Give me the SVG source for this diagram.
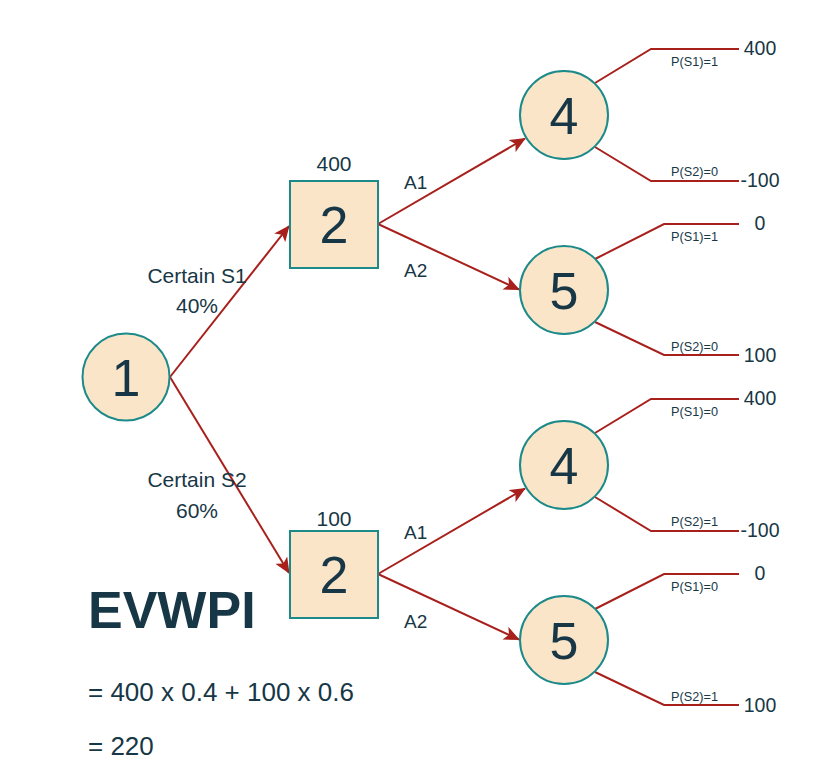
<svg xmlns="http://www.w3.org/2000/svg" width="827" height="782" viewBox="0 0 827 782">
<style>
.nd{fill:#FAE5C8;stroke:#1B8A89;stroke-width:2}
.num{font-family:"Liberation Sans",Arial,sans-serif;font-size:52px;fill:#173746;text-anchor:middle}
.lbl{font-family:"Liberation Sans",Arial,sans-serif;font-size:21px;fill:#173746;text-anchor:middle}
.act{font-family:"Liberation Sans",Arial,sans-serif;font-size:19px;fill:#173746}
.pay{font-family:"Liberation Sans",Arial,sans-serif;font-size:19.5px;fill:#173746;text-anchor:middle}
.prob{font-family:"Liberation Sans",Arial,sans-serif;font-size:12.7px;fill:#173746;text-anchor:middle}
.ev{font-family:"Liberation Sans",Arial,sans-serif;fill:#173746}
.arr{fill:none;stroke:#A8201B;stroke-width:2}
.br{fill:none;stroke:#A8201B;stroke-width:2}
</style>
<defs>
<marker id="ah" markerUnits="userSpaceOnUse" markerWidth="16" markerHeight="14" viewBox="0 0 16 14" refX="15" refY="7" orient="auto">
<path d="M0,0 L16,7 L0,14 L4,7 z" fill="#A8201B"/>
</marker>
</defs>
<g id="connectors">
<path class="arr" d="M170,377 L289,226" marker-end="url(#ah)"/>
<path class="arr" d="M170,377 L289,573" marker-end="url(#ah)"/>
<path class="arr" d="M378,224 L525,138.5" marker-end="url(#ah)"/>
<path class="arr" d="M378,224 L519,289.5" marker-end="url(#ah)"/>
<path class="arr" d="M378,574 L525,488.5" marker-end="url(#ah)"/>
<path class="arr" d="M378,574 L519,639.5" marker-end="url(#ah)"/>
<path class="br" d="M595,83 L651,49 L739,49"/>
<path class="br" d="M595,147 L651,181 L739,181"/>
<path class="br" d="M595,259 L664,224 L739,224"/>
<path class="br" d="M595,322 L664,355 L739,355"/>
<path class="br" d="M595,433 L651,399 L739,399"/>
<path class="br" d="M595,497 L651,531 L739,531"/>
<path class="br" d="M595,609 L664,574 L739,574"/>
<path class="br" d="M595,672 L664,705 L739,705"/>
</g>
<g id="edge-labels">
<text class="lbl" x="197" y="283">Certain S1</text>
<text class="lbl" x="197" y="313">40%</text>
<text class="lbl" x="197" y="487">Certain S2</text>
<text class="lbl" x="197" y="518">60%</text>
<text class="act" x="404" y="189">A1</text>
<text class="act" x="404" y="277">A2</text>
<text class="act" x="404" y="539">A1</text>
<text class="act" x="404" y="628">A2</text>
<text class="prob" x="694.5" y="65.5">P(S1)=1</text>
<text class="prob" x="694.5" y="175.5">P(S2)=0</text>
<text class="prob" x="694.5" y="240.5">P(S1)=1</text>
<text class="prob" x="694.5" y="350.5">P(S2)=0</text>
<text class="prob" x="694.5" y="415.5">P(S1)=0</text>
<text class="prob" x="694.5" y="525.5">P(S2)=1</text>
<text class="prob" x="694.5" y="590.5">P(S1)=0</text>
<text class="prob" x="694.5" y="700.5">P(S2)=1</text>
<text class="pay" x="760" y="55">400</text>
<text class="pay" x="760" y="187">-100</text>
<text class="pay" x="760" y="229.5">0</text>
<text class="pay" x="760" y="361.5">100</text>
<text class="pay" x="760" y="405">400</text>
<text class="pay" x="760" y="537">-100</text>
<text class="pay" x="760" y="579.5">0</text>
<text class="pay" x="760" y="711.5">100</text>
</g>
<g id="node1">
<circle class="nd" cx="126" cy="377" r="43.5"/>
<text class="num" x="126" y="396">1</text>
</g>
<g id="node2a">
<rect class="nd" x="290" y="181" width="88" height="87"/>
<text class="num" x="334" y="243">2</text>
<text class="lbl" x="334" y="171">400</text>
</g>
<g id="node2b">
<rect class="nd" x="290" y="531" width="88" height="87"/>
<text class="num" x="334" y="593">2</text>
<text class="lbl" x="334" y="526">100</text>
</g>
<g id="node4a">
<circle class="nd" cx="564" cy="115" r="44"/>
<text class="num" x="564" y="133.5">4</text>
</g>
<g id="node5a">
<circle class="nd" cx="564" cy="290" r="44"/>
<text class="num" x="564" y="308.5">5</text>
</g>
<g id="node4b">
<circle class="nd" cx="564" cy="465" r="44"/>
<text class="num" x="564" y="483.5">4</text>
</g>
<g id="node5b">
<circle class="nd" cx="564" cy="640" r="44"/>
<text class="num" x="564" y="658.5">5</text>
</g>
<g id="evwpi">
<text class="ev" x="88" y="628" font-size="52" font-weight="bold">EVWPI</text>
<text class="ev" x="88" y="701" font-size="26">= 400 x 0.4 + 100 x 0.6</text>
<text class="ev" x="88" y="755" font-size="26">= 220</text>
</g>
</svg>
